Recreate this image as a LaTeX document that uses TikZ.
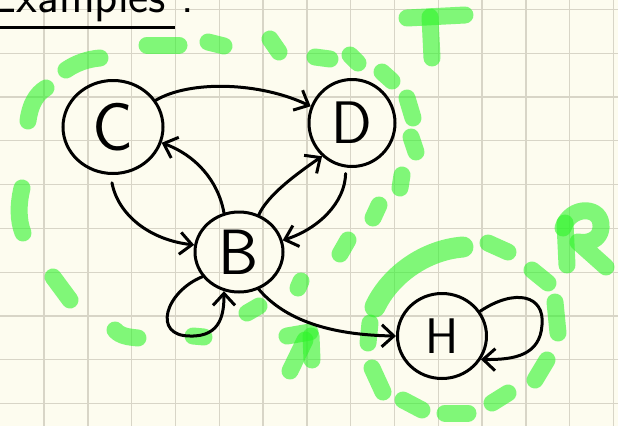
\documentclass[tikz,border=0pt]{standalone}
\usepackage{fontspec}
\usetikzlibrary{arrows.meta,shapes.geometric}
\definecolor{paper}{RGB}{253,252,239}
\definecolor{gridc}{RGB}{216,213,199}
\definecolor{hlgreen}{RGB}{45,245,41}
\begin{document}
\begin{tikzpicture}[x=1pt,y=-1pt,
  hl/.style={draw=hlgreen, draw opacity=0.6, line width=17pt, line cap=round, line join=round},
  vert/.style={draw, ellipse, line width=3pt, inner sep=0pt, font=\sffamily\fontsize{#1}{#1}\selectfont},
  arr/.style={line width=3pt, line cap=round, line join=round, -{Straight Barb[length=12pt,width=22pt]}},
]
\clip (0,0) rectangle (618,426);
\fill[paper] (0,0) rectangle (618,426);
\foreach \i in {1,...,14} \draw[gridc, line width=1.3pt] ({\i*43.8+0.3},0) -- ++(0,426);
\foreach \j in {0,...,9} \draw[gridc, line width=1.3pt] (0,{9.4+\j*43.8}) -- ++(618,0);

% title
\node[anchor=base east, inner sep=0pt, font=\sffamily\fontsize{48}{48}\selectfont] (title) at (194,12) {Examples :};
\draw[line width=2.6pt] (0,27.5) -- (175,27.5);

% green set T
\draw[hl] (28,121) .. controls (30,105) and (36,94) .. (46,88);
\draw[hl] (66,70) .. controls (76,63) and (88,59) .. (100,58);
\draw[hl] (147,45) -- (179,45);
\draw[hl] (208,42) -- (224,46);
\draw[hl] (270,39) -- (279,52);
\draw[hl] (315,57) -- (330,59);
\draw[hl] (350,55) -- (358,63);
\draw[hl] (382,72) -- (392,81);
\draw[hl] (407,98) -- (413,118);
\draw[hl] (411,137) -- (416,152);
\draw[hl] (402,175) -- (400,188);
\draw[hl] (379,205) -- (373,218);
\draw[hl] (348,240) -- (340,254);
\draw[hl] (301,281) -- (298,288);
\draw[hl] (247,313) -- (259,306);
\draw[hl] (193,336) -- (204,337);
\draw[hl] (115,330) .. controls (120,336) and (128,337) .. (138,338);
\draw[hl] (53,277) -- (70,300);
\draw[hl] (22,188) .. controls (18,205) and (18,220) .. (23,233);
\draw[hl] (290,371) -- (305,340);
\draw[hl] (287,336) -- (310,332);
\draw[hl] (311,336) -- (312,360);
\draw[hl] (407,18) -- (465,15);
\draw[hl] (430,17) -- (432,58);

% green set R
\draw[hl, line width=21pt] (375,307) .. controls (390,275) and (425,250) .. (463,247);
\draw[hl] (488,243) -- (508,252);
\draw[hl] (532,270) -- (548,283);
\draw[hl] (555,302) -- (558,333);
\draw[hl] (547,360) -- (535,380);
\draw[hl] (508,393) -- (492,403);
\draw[hl] (445,413) -- (468,413);
\draw[hl] (403,400) -- (422,410);
\draw[hl] (372,368) -- (383,392);
\draw[hl] (370,323) -- (368,343);
\draw[hl] (565,223) -- (567,265);
\draw[hl] (563,228) .. controls (570,205) and (603,205) .. (601,228) .. controls (600,240) and (588,244) .. (578,242) -- (606,267);

% vertices
\node[vert=68, minimum width=100pt, minimum height=93pt] (C) at (113,127) {C};
\node[vert=60, minimum width=86pt, minimum height=87pt] (D) at (352,123) {D};
\node[vert=64, minimum width=88pt, minimum height=80pt] (B) at (239,252) {B};
\node[vert=50, minimum width=89pt, minimum height=85pt] (H) at (442,336) {H};

% edges
\draw[arr] (C.32) .. controls (190,80) and (260,82) .. (D.158);
\draw[arr] (B.111) .. controls (218,180) and (195,155) .. (C.-18);
\draw[arr, shorten <=8pt] (C.-93) .. controls (118,215) and (150,240) .. (B.171);
\draw[arr] (B.62) .. controls (268,195) and (295,175) .. (D.228);
\draw[arr, shorten <=6pt] (D.-98) .. controls (345,203) and (318,229) .. (B.15);
\draw[arr] (B.214) .. controls (165,292) and (152,336) .. (190,336) .. controls (222,337) and (224,312) .. (B.-111);
\draw[arr] (B.-62) .. controls (285,320) and (330,335) .. (H.180);
\draw[arr] (H.33) .. controls (515,288) and (545,295) .. (542,325) .. controls (540,355) and (515,360) .. (H.-31);
\end{tikzpicture}
\end{document}
